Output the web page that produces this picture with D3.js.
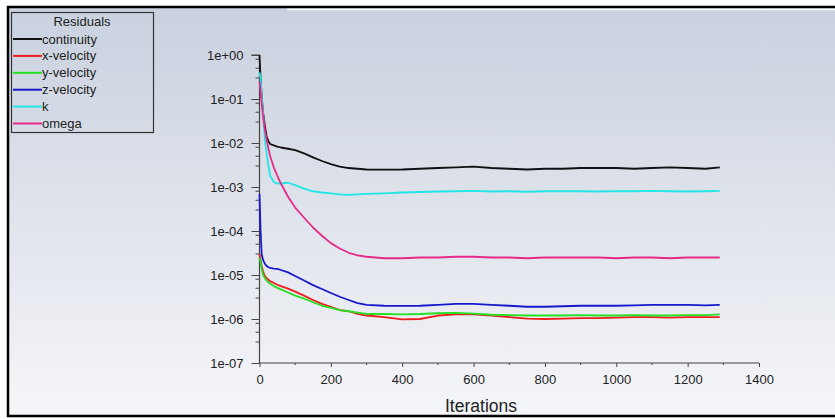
<!DOCTYPE html>
<html>
<head>
<meta charset="utf-8">
<script src="https://cdn.jsdelivr.net/npm/d3@7"></script>
<style>
  html, body { margin: 0; padding: 0; background: #fff; }
  svg { display: block; font-family: "Liberation Sans", Arial, sans-serif; }
</style>
</head>
<body>
<svg id="chart" width="835" height="419"></svg>
<script>
const width = 835,
  height = 419;

const iterations = [0, 3, 6, 10, 15, 20, 25, 30, 40, 50, 60, 80, 100, 125, 150, 175, 200, 225, 250, 275, 300, 350, 400, 450, 500, 550, 600, 650, 700, 750, 800, 850, 900, 950, 1000, 1050, 1100, 1150, 1200, 1250, 1290];

const continuity = [1.0, 0.3, 0.12, 0.05, 0.025, 0.014, 0.011, 0.0095, 0.0088, 0.0083, 0.0079, 0.0074, 0.0069, 0.0058, 0.0047, 0.0039, 0.0033, 0.0029, 0.0027, 0.0026, 0.0025, 0.00248, 0.0025, 0.0026, 0.0027, 0.0028, 0.0029, 0.0027, 0.0026, 0.0025, 0.0026, 0.0026, 0.0027, 0.0027, 0.0027, 0.0026, 0.0027, 0.0028, 0.0027, 0.0026, 0.0028];
const xVelocity = [3.0e-5, 2.2e-5, 1.6e-5, 1.2e-5, 9.5e-6, 8.5e-6, 7.8e-6, 7.2e-6, 6.6e-6, 6.0e-6, 5.6e-6, 4.9e-6, 4.2e-6, 3.4e-6, 2.7e-6, 2.2e-6, 1.9e-6, 1.6e-6, 1.5e-6, 1.3e-6, 1.2e-6, 1.1e-6, 9.8e-7, 1.0e-6, 1.2e-6, 1.28e-6, 1.28e-6, 1.2e-6, 1.1e-6, 1.02e-6, 1.0e-6, 1.02e-6, 1.05e-6, 1.05e-6, 1.08e-6, 1.1e-6, 1.1e-6, 1.08e-6, 1.1e-6, 1.1e-6, 1.1e-6];
const yVelocity = [2.5e-5, 2.0e-5, 1.4e-5, 1.0e-5, 8.5e-6, 7.5e-6, 6.8e-6, 6.3e-6, 5.6e-6, 5.1e-6, 4.7e-6, 4.0e-6, 3.4e-6, 2.9e-6, 2.4e-6, 2.0e-6, 1.8e-6, 1.6e-6, 1.5e-6, 1.4e-6, 1.3e-6, 1.3e-6, 1.28e-6, 1.3e-6, 1.35e-6, 1.38e-6, 1.32e-6, 1.25e-6, 1.22e-6, 1.2e-6, 1.2e-6, 1.2e-6, 1.22e-6, 1.2e-6, 1.2e-6, 1.22e-6, 1.2e-6, 1.2e-6, 1.22e-6, 1.22e-6, 1.28e-6];
const zVelocity = [7.0e-4, 1.0e-4, 3.0e-5, 2.2e-5, 1.8e-5, 1.6e-5, 1.5e-5, 1.45e-5, 1.4e-5, 1.38e-5, 1.3e-5, 1.15e-5, 9.5e-6, 7.5e-6, 5.9e-6, 4.8e-6, 3.9e-6, 3.2e-6, 2.7e-6, 2.3e-6, 2.1e-6, 2.0e-6, 1.98e-6, 2.0e-6, 2.1e-6, 2.2e-6, 2.2e-6, 2.1e-6, 2.0e-6, 1.9e-6, 1.9e-6, 1.95e-6, 2.0e-6, 2.0e-6, 2.0e-6, 2.05e-6, 2.1e-6, 2.1e-6, 2.1e-6, 2.05e-6, 2.1e-6];
const kResidual = [0.4, 0.3, 0.12, 0.05, 0.012, 0.006, 0.003, 0.0018, 0.0013, 0.0012, 0.0012, 0.00125, 0.0011, 0.00092, 0.0008, 0.00075, 0.00072, 0.00068, 0.00066, 0.00068, 0.0007, 0.00072, 0.00075, 0.00077, 0.00079, 0.0008, 0.00082, 0.00079, 0.0008, 0.00078, 0.0008, 0.00081, 0.0008, 0.00079, 0.00081, 0.0008, 0.00082, 0.0008, 0.00079, 0.0008, 0.00082];
const omega = [0.25, 0.15, 0.08, 0.04, 0.02, 0.012, 0.0075, 0.005, 0.0028, 0.0018, 0.0012, 0.0006, 0.00034, 0.0002, 0.00012, 7.8e-5, 5.3e-5, 4.0e-5, 3.2e-5, 2.8e-5, 2.6e-5, 2.4e-5, 2.4e-5, 2.5e-5, 2.5e-5, 2.6e-5, 2.6e-5, 2.5e-5, 2.5e-5, 2.4e-5, 2.5e-5, 2.5e-5, 2.5e-5, 2.5e-5, 2.4e-5, 2.5e-5, 2.5e-5, 2.4e-5, 2.5e-5, 2.5e-5, 2.5e-5];

const seriesNames = ["continuity", "x-velocity", "y-velocity", "z-velocity", "k", "omega"];
const seriesValues = [continuity, xVelocity, yVelocity, zVelocity, kResidual, omega];
const seriesColors = ["#111111", "#ee1c1c", "#22e022", "#1818cc", "#22e6e6", "#e62a8a"];

const xTicks = [0, 200, 400, 600, 800, 1000, 1200, 1400];
const yTicks = [1e-7, 1e-6, 1e-5, 1e-4, 1e-3, 1e-2, 1e-1, 1];

const svg = d3.select("#chart");

// background gradient like the Fluent window
const defs = svg.append("defs");
const grad = defs
  .append("linearGradient")
  .attr("id", "bg")
  .attr("x1", 0)
  .attr("y1", 0)
  .attr("x2", 0)
  .attr("y2", 1);
grad.append("stop").attr("offset", "0%").attr("stop-color", "#c9d1df");
grad.append("stop").attr("offset", "50%").attr("stop-color", "#dfe3eb");
grad.append("stop").attr("offset", "100%").attr("stop-color", "#f5f6f9");

svg.append("rect").attr("width", width).attr("height", height).attr("fill", "#fff");
svg
  .append("rect")
  .attr("x", 8)
  .attr("y", 7)
  .attr("width", width - 8)
  .attr("height", 409)
  .attr("fill", "url(#bg)");

// window frame
svg.append("line").attr("x1", 7).attr("x2", width).attr("y1", 7).attr("y2", 7)
  .attr("stroke", "#000").attr("stroke-width", 2.5);
svg.append("line").attr("x1", 287).attr("x2", width).attr("y1", 9.5).attr("y2", 9.5)
  .attr("stroke", "#fff").attr("stroke-width", 1.5);
svg.append("line").attr("x1", 8).attr("x2", 8).attr("y1", 6).attr("y2", 417)
  .attr("stroke", "#000").attr("stroke-width", 2.5);
svg.append("line").attr("x1", 7).attr("x2", width).attr("y1", 416).attr("y2", 416)
  .attr("stroke", "#000").attr("stroke-width", 2.5);

const x = d3.scaleLinear().domain([0, 1400]).range([259.5, 759]);
const y = d3.scaleLog().domain([1e-7, 1]).range([363, 55]);

// y axis with log minor ticks
const minorY = [];
for (let e = -7; e < 0; e++) {
  [3, 5, 8].forEach((m) => minorY.push(m * Math.pow(10, e)));
}

const yAxis = svg.append("g").attr("transform", `translate(${x(0)},0)`);
yAxis.call(
  d3.axisLeft(y).tickValues(yTicks).tickSize(8).tickFormat((d) => d3.format(".0e")(d).replace(/e([+-])(\d)$/, "e$10$2"))
);
yAxis.selectAll(".minor")
  .data(minorY)
  .join("line")
  .attr("class", "minor")
  .attr("x1", -4)
  .attr("x2", 0)
  .attr("y1", (d) => y(d))
  .attr("y2", (d) => y(d))
  .attr("stroke", "#444");

const xAxis = svg.append("g").attr("transform", `translate(0,${y(1e-7)})`);
xAxis.call(d3.axisBottom(x).tickValues(xTicks).tickSize(4).tickFormat(d3.format("d")));
xAxis.selectAll(".minor")
  .data([100, 300, 500, 700, 900, 1100, 1300])
  .join("line")
  .attr("class", "minor")
  .attr("x1", (d) => x(d))
  .attr("x2", (d) => x(d))
  .attr("y1", 0)
  .attr("y2", 2)
  .attr("stroke", "#444");

[yAxis, xAxis].forEach((a) => {
  a.select(".domain").attr("stroke", "#444").attr("stroke-width", 1.2);
  a.selectAll(".tick line").attr("stroke", "#444");
  a.selectAll(".tick text")
    .attr("fill", "#222")
    .style("font-family", "'Liberation Sans', Arial, sans-serif")
    .style("font-size", "13px");
});
yAxis.select(".domain").attr("d", `M-8,${y(1)}H0V${y(1e-7)}`);
yAxis.selectAll(".tick text").attr("x", -16);
xAxis.select(".domain").attr("d", `M${x(0)},0H${x(1400)}`);
xAxis.selectAll(".tick text").attr("y", 12);

svg
  .append("text")
  .attr("x", 481)
  .attr("y", 412)
  .attr("text-anchor", "middle")
  .attr("fill", "#222")
  .style("font-size", "17.5px")
  .text("Iterations");

// residual curves
const line = d3
  .line()
  .x((d) => x(d[0]))
  .y((d) => y(d[1]));

svg
  .append("g")
  .selectAll("path")
  .data(seriesValues.map((vals, i) => ({ i, pts: iterations.map((it, j) => [it, vals[j]]) })))
  .join("path")
  .attr("d", (d) => line(d.pts))
  .attr("fill", "none")
  .attr("stroke", (d) => seriesColors[d.i])
  .attr("stroke-width", 1.8)
  .attr("stroke-linejoin", "round");

// legend
const legend = svg.append("g");
legend
  .append("rect")
  .attr("x", 11.5)
  .attr("y", 12.5)
  .attr("width", 142)
  .attr("height", 120)
  .attr("fill", "none")
  .attr("stroke", "#333")
  .attr("stroke-width", 1.2);
legend
  .append("text")
  .attr("x", 82)
  .attr("y", 26)
  .attr("text-anchor", "middle")
  .attr("fill", "#222")
  .style("font-size", "13px")
  .text("Residuals");

const entries = legend
  .selectAll(".entry")
  .data(seriesNames)
  .join("g")
  .attr("class", "entry")
  .attr("transform", (d, i) => `translate(0,${39 + i * 16.9})`);
entries
  .append("line")
  .attr("x1", 13)
  .attr("x2", 42)
  .attr("stroke", (d, i) => seriesColors[i])
  .attr("stroke-width", 2);
entries
  .append("text")
  .attr("x", 42)
  .attr("y", 4.5)
  .attr("fill", "#222")
  .style("font-size", "13px")
  .text((d) => d);
</script>
</body>
</html>
